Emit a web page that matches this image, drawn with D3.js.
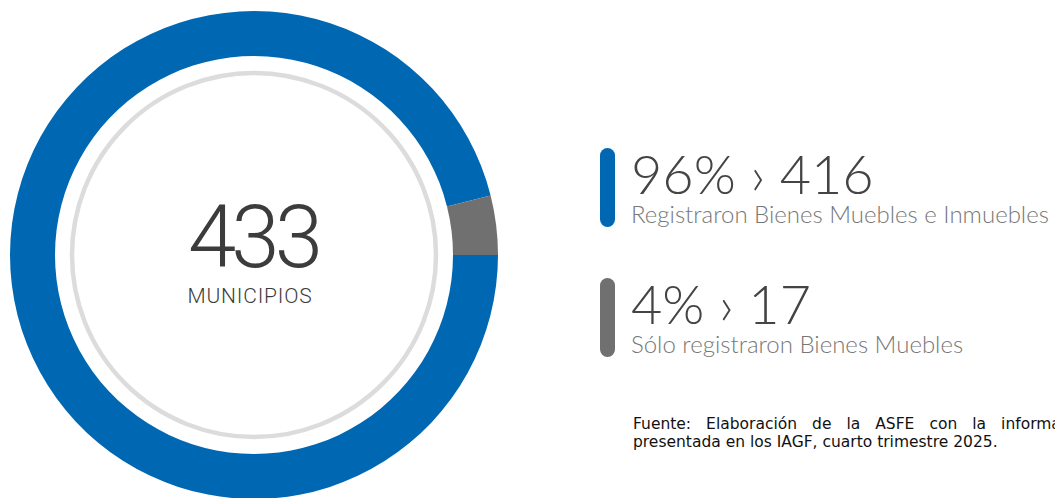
<!DOCTYPE html>
<html>
  <head>
    <meta charset="utf-8">
    <title>Municipios</title>
    <script src="https://cdn.jsdelivr.net/npm/d3@7"></script>
    <style>
      html, body { margin: 0; padding: 0; background: #fff; overflow: hidden; }
      svg { display: block; }
    </style>
  </head>
  <body>
    <svg id="chart" width="1055" height="498"></svg>

    <script>
      // data
      const categories = ["Registraron Bienes Muebles e Inmuebles", "Sólo registraron Bienes Muebles"];
      const counts = [416, 17];
      const percents = ["96%", "4%"];
      const colours = ["#0068b3", "#707070"];
      const totalLabel = "433";
      const totalText = "MUNICIPIOS";
      const sourceLines = [
        "Fuente: Elaboración de la ASFE con la información",
        "presentada en los IAGF, cuarto trimestre 2025."
      ];

      // page elements
      svg = d3.select("#chart");
      cx = 254;
      cy = 255;

      // donut
      pie = d3.pie()
        .sort(null)
        .startAngle(Math.PI / 2)
        .endAngle(Math.PI / 2 + 2 * Math.PI);
      arc = d3.arc()
        .innerRadius(199)
        .outerRadius(244);

      donut = svg.append("g")
        .attr("transform", "translate(" + cx + "," + cy + ")");
      donut.selectAll(".slice")
        .data(pie(counts))
        .enter().append("path")
          .classed("slice", true)
          .attr("d", arc)
          .style("fill", function(d, i) { return colours[i]; });
      donut.append("circle")
        .attr("r", 182)
        .style("fill", "none")
        .style("stroke", "#dcdcdc")
        .style("stroke-width", 4.5);

      donut.append("text")
        .attr("text-anchor", "middle")
        .attr("x", -1)
        .attr("y", 12)
        .style("font-family", "Roboto, 'Liberation Sans', sans-serif")
        .style("font-weight", 300)
        .style("font-size", "87px")
        .style("letter-spacing", "-5px")
        .style("fill", "#3c3c3c")
        .text(totalLabel);
      donut.append("text")
        .attr("text-anchor", "middle")
        .attr("x", -4)
        .attr("y", 48)
        .style("font-family", "Roboto, 'Liberation Sans', sans-serif")
        .style("font-weight", 300)
        .style("font-size", "21px")
        .style("letter-spacing", "0.8px")
        .style("fill", "#3c3c3c")
        .text(totalText);

      // legend
      legend = svg.selectAll(".legendItem")
        .data(categories)
        .enter().append("g")
          .classed("legendItem", true)
          .attr("transform", function(d, i) { return "translate(600," + (148 + i * 130) + ")"; });
      legend.append("rect")
        .attr("width", 15)
        .attr("height", 79)
        .attr("rx", 7.5)
        .style("fill", function(d, i) { return colours[i]; });
      legend.append("text")
        .attr("x", 31)
        .attr("y", 46)
        .style("font-family", "Lato, 'Open Sans', sans-serif")
        .style("font-weight", 300)
        .style("font-size", "54px")
        .style("fill", "#444")
        .text(function(d, i) { return percents[i] + " \u203A " + counts[i]; });
      legend.append("text")
        .attr("x", 31)
        .attr("y", 75)
        .style("font-family", "Lato, 'Open Sans', sans-serif")
        .style("font-weight", 300)
        .style("font-size", "24px")
        .style("fill", "#777")
        .text(function(d) { return d; });

      // source note, first line justified
      source = svg.append("g")
        .style("font-family", "'DejaVu Sans', 'Open Sans', sans-serif")
        .style("font-size", "15.5px")
        .style("fill", "#111");
      blockLeft = 633;
      blockWidth = 460;
      words = sourceLines[0].split(" ");
      wordNodes = source.selectAll(".word")
        .data(words)
        .enter().append("text")
          .classed("word", true)
          .attr("y", 429)
          .text(function(d) { return d; });
      widths = wordNodes.nodes().map(function(n) { return n.getComputedTextLength(); });
      gap = (blockWidth - d3.sum(widths)) / (words.length - 1);
      xPos = 0;
      wordNodes.attr("x", function(d, i) {
        const x = blockLeft + xPos;
        xPos += widths[i] + gap;
        return x;
      });
      source.append("text")
        .attr("x", blockLeft)
        .attr("y", 447)
        .text(sourceLines[1]);
    </script>
  </body>
</html>
